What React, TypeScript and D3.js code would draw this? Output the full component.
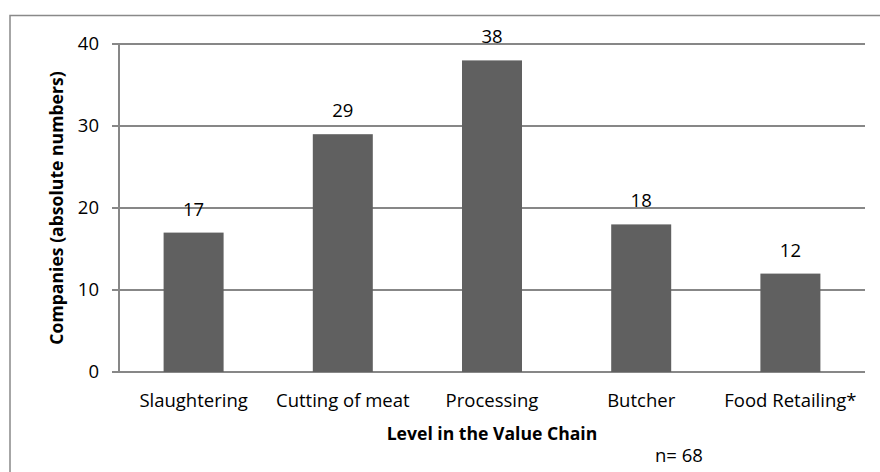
import React from "react";
import * as d3 from "d3";

const categories = ["Slaughtering", "Cutting of meat", "Processing", "Butcher", "Food Retailing*"];
const values = [17, 29, 38, 18, 12];
const yTicks = [0, 10, 20, 30, 40];
const yTitle = "Companies (absolute numbers)";
const xTitle = "Level in the Value Chain";
const note = "n= 68";

const W = 880;
const H = 472;
const FONT = "'Open Sans', 'Liberation Sans', sans-serif";

export default function App() {
  const left = 119;
  const right = 865;
  const top = 44;
  const bottom = 372;
  const x = d3.scaleBand<string>().domain(categories).range([left, right]).paddingInner(0.6).paddingOuter(0.3);
  const y = d3.scaleLinear().domain([0, 40]).range([bottom, top]);
  const barW = 60;
  const center = (c: string) => (x(c) as number) + x.bandwidth() / 2;

  return (
    <svg
      width={W}
      height={H}
      style={{ position: "absolute", left: 0, top: 0, background: "#fff" }}
      fontFamily={FONT}
    >
      <rect x={10} y={15.5} width={W + 20} height={H + 20} fill="#fff" stroke="#898989" strokeWidth={1.5} />
      {yTicks.map((t) => (
        <g key={t}>
          <line x1={left - 7} x2={right} y1={y(t)} y2={y(t)} stroke="#878787" strokeWidth={2} />
          <text x={99} y={y(t)} dy="0.35em" textAnchor="end" fontSize={18.5} fill="#000">
            {t}
          </text>
        </g>
      ))}
      <line x1={left} x2={left} y1={top} y2={bottom} stroke="#878787" strokeWidth={2} />
      {categories.map((c, i) => (
        <g key={c}>
          <rect x={center(c) - barW / 2} y={y(values[i])} width={barW} height={y(0) - y(values[i])} fill="#606060" />
          <text x={center(c)} y={y(values[i]) - 17} textAnchor="middle" fontSize={18.5} fill="#000">
            {values[i]}
          </text>
          <text x={center(c)} y={407} textAnchor="middle" fontSize={18.5} fill="#000">
            {c}
          </text>
        </g>
      ))}
      <text x={492} y={440} textAnchor="middle" fontSize={17.6} fontWeight="bold" fill="#000">
        {xTitle}
      </text>
      <text
        transform={`translate(63, 208) rotate(-90)`}
        textAnchor="middle"
        fontSize={17.6}
        fontWeight="bold"
        fill="#000"
      >
        {yTitle}
      </text>
      <text x={655} y={462} fontSize={18.5} fill="#000">
        {note}
      </text>
    </svg>
  );
}
